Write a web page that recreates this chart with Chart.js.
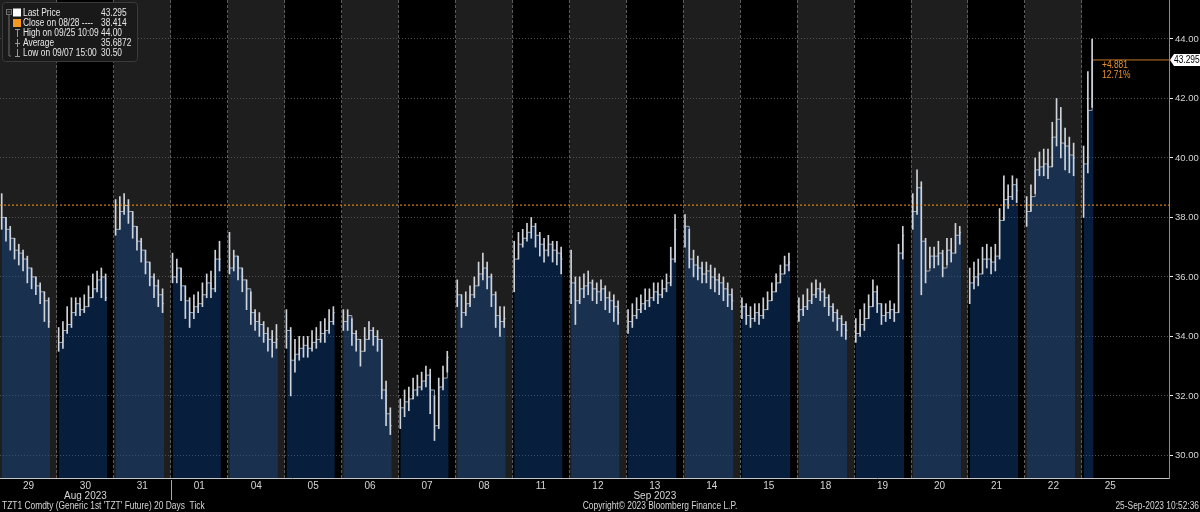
<!DOCTYPE html>
<html>
<head>
<meta charset="utf-8">
<script src="https://cdn.jsdelivr.net/npm/chart.js@4.4.0/dist/chart.umd.min.js"></script>
<style>
  html, body { margin: 0; padding: 0; background: #000; }
  #chart { display: block; }
</style>
</head>
<body>
<canvas id="chart" width="1200" height="512"></canvas>
<script>
// trading days shown on the axis
const dayLabels = ['29','30','31','01','04','05','06','07','08','11','12','13','14','15','18','19','20','21','22','25'];

// intraday bars per day (close / high / low)
const closes = [
  [38.0, 37.6, 37.3, 36.9, 36.8, 36.6, 36.3, 36.0, 35.7, 35.5, 35.2, 34.5],
  [33.8, 34.2, 34.4, 34.8, 35.1, 34.9, 35.0, 35.3, 35.6, 35.9, 36.0, 35.3],
  [37.6, 38.2, 38.4, 38.2, 37.7, 37.2, 36.9, 36.5, 36.0, 35.7, 35.4, 35.1],
  [36.0, 36.3, 35.7, 35.2, 34.8, 35.0, 35.1, 35.4, 35.8, 35.6, 36.6, 36.6],
  [36.3, 36.7, 36.3, 35.9, 35.6, 34.8, 34.5, 34.4, 34.1, 33.9, 33.8, 33.9],
  [34.2, 33.2, 33.4, 33.6, 33.7, 33.6, 33.8, 33.9, 34.1, 34.2, 34.5, 34.8],
  [34.5, 34.7, 34.1, 33.9, 33.5, 33.9, 34.2, 34.0, 33.9, 32.2, 31.4, 31.0],
  [31.6, 31.8, 31.9, 32.2, 32.3, 32.5, 32.7, 32.2, 31.0, 32.3, 32.6, 33.3],
  [35.4, 34.8, 35.1, 35.4, 35.7, 36.1, 36.3, 36.0, 35.4, 34.7, 34.5, 34.6],
  [36.6, 37.1, 37.3, 37.5, 37.7, 37.4, 37.1, 36.9, 37.1, 36.9, 36.8, 36.6],
  [35.8, 35.2, 35.6, 35.7, 35.8, 35.6, 35.5, 35.6, 35.3, 35.2, 35.0, 34.8],
  [34.5, 34.7, 34.9, 35.1, 35.2, 35.3, 35.5, 35.4, 35.6, 35.8, 36.6, 37.6],
  [37.7, 36.6, 36.4, 36.3, 36.1, 36.2, 36.0, 35.9, 35.8, 35.6, 35.4, 35.2],
  [35.0, 34.7, 34.6, 34.8, 34.7, 34.9, 35.2, 35.5, 35.8, 36.1, 36.4, 36.5],
  [34.9, 35.0, 35.2, 35.4, 35.6, 35.5, 35.3, 35.0, 34.8, 34.6, 34.4, 34.2],
  [34.1, 34.4, 34.6, 35.0, 35.5, 35.1, 34.7, 34.8, 34.9, 34.8, 36.8, 37.4],
  [38.2, 39.0, 37.2, 36.2, 36.7, 36.7, 36.8, 36.3, 36.9, 36.8, 37.4, 37.5],
  [35.8, 36.0, 36.1, 36.6, 36.6, 36.5, 36.7, 37.9, 38.6, 38.7, 39.1, 38.9],
  [38.2, 38.7, 39.6, 39.7, 39.8, 39.7, 40.7, 41.3, 40.5, 40.4, 40.1, 40.0],
  [39.8, 41.6, 43.295]
];
const highs = [
  [38.8, 38.0, 37.7, 37.3, 37.1, 36.9, 36.7, 36.3, 36.0, 35.8, 35.5, 35.3],
  [34.3, 34.5, 35.0, 35.3, 35.3, 35.3, 35.4, 35.7, 36.1, 36.2, 36.3, 36.1],
  [38.6, 38.7, 38.8, 38.6, 38.2, 37.7, 37.3, 36.9, 36.5, 36.1, 35.9, 35.6],
  [36.8, 36.6, 36.3, 35.7, 35.3, 35.4, 35.5, 35.8, 36.1, 36.2, 36.9, 37.2],
  [37.5, 36.9, 36.7, 36.3, 35.9, 35.5, 34.9, 34.8, 34.5, 34.3, 34.2, 34.4],
  [34.9, 34.3, 33.9, 34.0, 34.0, 34.0, 34.2, 34.3, 34.5, 34.6, 34.9, 35.0],
  [34.9, 34.9, 34.6, 34.2, 33.9, 34.3, 34.5, 34.3, 34.2, 33.9, 32.5, 31.6],
  [31.9, 32.2, 32.3, 32.6, 32.7, 32.8, 33.0, 32.9, 32.0, 32.6, 33.0, 33.5],
  [35.9, 35.4, 35.5, 35.7, 36.0, 36.5, 36.8, 36.5, 36.1, 35.5, 35.0, 35.0],
  [37.2, 37.5, 37.6, 37.8, 38.0, 37.8, 37.5, 37.3, 37.4, 37.2, 37.2, 37.0],
  [36.9, 36.0, 36.0, 36.1, 36.2, 35.9, 35.8, 35.9, 35.7, 35.5, 35.4, 35.2],
  [34.9, 35.1, 35.3, 35.4, 35.6, 35.6, 35.8, 35.8, 35.9, 36.1, 37.0, 38.1],
  [38.1, 37.6, 36.9, 36.7, 36.5, 36.5, 36.4, 36.3, 36.1, 36.0, 35.8, 35.6],
  [35.3, 35.1, 35.0, 35.1, 35.1, 35.3, 35.5, 35.8, 36.1, 36.4, 36.7, 36.8],
  [35.3, 35.4, 35.6, 35.8, 35.9, 35.8, 35.6, 35.4, 35.1, 34.9, 34.7, 34.5],
  [34.6, 34.9, 35.1, 35.4, 35.9, 35.7, 35.1, 35.1, 35.2, 35.1, 37.1, 37.7],
  [38.8, 39.6, 39.2, 37.3, 37.0, 37.0, 37.2, 36.9, 37.3, 37.3, 37.8, 37.7],
  [36.3, 36.5, 36.6, 37.0, 37.1, 37.0, 37.1, 38.3, 39.4, 39.1, 39.4, 39.3],
  [38.7, 39.1, 40.0, 40.2, 40.3, 40.3, 41.2, 42.0, 41.7, 41.0, 40.7, 40.5],
  [40.4, 42.9, 44.0]
];
const lows = [
  [37.6, 37.2, 36.9, 36.6, 36.4, 36.2, 35.8, 35.6, 35.4, 35.1, 34.5, 34.3],
  [33.5, 33.6, 34.1, 34.3, 34.7, 34.7, 34.8, 35.0, 35.3, 35.5, 35.3, 35.2],
  [37.4, 37.6, 38.1, 37.8, 37.3, 36.9, 36.5, 36.1, 35.7, 35.3, 35.0, 34.8],
  [35.8, 35.8, 35.2, 34.6, 34.3, 34.6, 34.8, 35.0, 35.3, 35.3, 35.5, 36.2],
  [36.1, 36.2, 35.9, 35.5, 34.9, 34.4, 34.2, 34.0, 33.8, 33.5, 33.3, 33.6],
  [33.6, 32.0, 32.8, 33.2, 33.3, 33.3, 33.5, 33.6, 33.8, 33.8, 34.1, 34.4],
  [34.2, 34.2, 33.7, 33.5, 33.0, 33.5, 33.9, 33.7, 33.5, 31.9, 31.0, 30.7],
  [30.9, 31.3, 31.5, 31.9, 32.0, 32.2, 32.3, 31.4, 30.5, 30.9, 32.2, 32.8],
  [35.0, 34.3, 34.7, 35.0, 35.3, 35.7, 35.9, 35.6, 35.0, 34.3, 34.0, 34.3],
  [35.5, 36.6, 37.0, 37.2, 37.3, 37.0, 36.7, 36.5, 36.7, 36.5, 36.4, 36.1],
  [35.1, 34.4, 35.1, 35.3, 35.4, 35.2, 35.1, 35.2, 34.9, 34.8, 34.5, 34.4],
  [34.1, 34.3, 34.6, 34.8, 34.9, 35.0, 35.2, 35.1, 35.3, 35.5, 35.7, 36.5],
  [37.0, 36.3, 36.0, 35.9, 35.8, 35.8, 35.6, 35.5, 35.4, 35.2, 35.0, 34.9],
  [34.6, 34.4, 34.3, 34.5, 34.4, 34.6, 34.9, 35.2, 35.5, 35.8, 36.1, 36.2],
  [34.5, 34.7, 34.9, 35.1, 35.3, 35.2, 35.0, 34.7, 34.5, 34.2, 34.0, 33.9],
  [33.8, 34.0, 34.2, 34.6, 35.0, 34.8, 34.4, 34.5, 34.6, 34.5, 34.8, 36.6],
  [37.6, 38.1, 35.4, 35.8, 36.3, 36.3, 36.4, 36.0, 36.4, 36.5, 36.8, 37.1],
  [35.1, 35.6, 35.7, 36.1, 36.3, 36.1, 36.2, 36.6, 37.9, 38.3, 38.6, 38.5],
  [37.7, 38.2, 38.8, 39.4, 39.4, 39.3, 39.7, 40.4, 40.0, 39.6, 39.5, 39.4],
  [38.0, 39.5, 41.7]
];

const yTicks = [30, 32, 34, 36, 38, 40, 42, 44];
const prevClose = 38.414;
const lastPrice = 43.295;

const legendRows = [
  ['Last Price', '43.295'],
  ['Close on 08/28 ----', '38.414'],
  ['High on 09/25 10:09', '44.00'],
  ['Average', '35.6872'],
  ['Low on 09/07 15:00', '30.50']
];

const FONT = "'Liberation Sans', Arial, sans-serif";
const NARROW = 0.84;   // the terminal font is narrower than Liberation Sans
const X_MAX = 20.53;
const SLOT = 0.075, START = 0.03, TAIL = 0.025;

// build points: stepped close line (with breaks between days) + high/low bars
const stepPts = [], hlPts = [];
let lastX = 0;
closes.forEach((day, d) => {
  day.forEach((c, j) => {
    const x = d + START + j * SLOT;
    stepPts.push({ x, y: c });
    hlPts.push({ x, y: [lows[d][j], highs[d][j]] });
  });
  lastX = d + START + (day.length - 1) * SLOT + TAIL;
  stepPts.push({ x: lastX, y: day[day.length - 1] });
  stepPts.push({ x: lastX + 0.005, y: null });
});

function narrowText(ctx, s, x, y, align) {
  ctx.save();
  ctx.translate(x, y);
  ctx.scale(NARROW, 1);
  ctx.textAlign = align || 'left';
  ctx.fillText(s, 0, 0);
  ctx.restore();
}

const bandsPlugin = {
  id: 'bands',
  beforeDraw(chart) {
    const { ctx, chartArea: a, scales: { x } } = chart;
    ctx.save();
    ctx.fillStyle = '#000';
    ctx.fillRect(0, 0, chart.width, chart.height);
    dayLabels.forEach((_, i) => {
      if (i % 2) return;
      const l = x.getPixelForValue(i), r = x.getPixelForValue(i + 1);
      ctx.fillStyle = '#1e1e1e';
      ctx.fillRect(l, a.top, r - l, a.bottom - a.top);
    });
    ctx.restore();
  }
};

const overlayPlugin = {
  id: 'overlay',
  afterDraw(chart) {
    const { ctx, chartArea: a, scales: { x, y } } = chart;
    ctx.save();

    // month separator under the axis
    const sx = Math.round(x.getPixelForValue(3)) + 0.5;
    ctx.strokeStyle = '#a8a8a8'; ctx.lineWidth = 1;
    ctx.beginPath(); ctx.moveTo(sx, a.bottom + 2); ctx.lineTo(sx, a.bottom + 22); ctx.stroke();

    // change since previous close
    const py = y.getPixelForValue(lastPrice);
    const chg = lastPrice - prevClose;
    ctx.font = '10px ' + FONT;
    ctx.textBaseline = 'middle';
    ctx.fillStyle = '#e8922c';
    narrowText(ctx, '+' + chg.toFixed(3), 1102, py + 5);
    narrowText(ctx, (chg / prevClose * 100).toFixed(2) + '%', 1102, py + 15);

    // last price tag on the axis
    ctx.fillStyle = '#ffffff';
    ctx.beginPath();
    ctx.moveTo(1174, py - 6); ctx.lineTo(1200, py - 6); ctx.lineTo(1200, py + 6);
    ctx.lineTo(1174, py + 6); ctx.lineTo(1170, py); ctx.closePath(); ctx.fill();
    ctx.fillStyle = '#000';
    narrowText(ctx, lastPrice.toFixed(3), 1174, py + 0.5);

    // legend box
    ctx.fillStyle = 'rgba(26,26,26,0.96)';
    ctx.strokeStyle = '#3a3a3a';
    ctx.beginPath(); ctx.roundRect(2.5, 2.5, 135, 59, 3); ctx.fill(); ctx.stroke();
    ctx.strokeStyle = '#707070';
    ctx.strokeRect(6.5, 9.5, 5, 5);
    ctx.beginPath();
    ctx.moveTo(7.5, 12); ctx.lineTo(10.5, 12);
    ctx.moveTo(9, 15); ctx.lineTo(9, 56); ctx.lineTo(11, 56);
    ctx.stroke();
    ctx.fillStyle = '#ffffff'; ctx.fillRect(13, 8.5, 8, 8);
    ctx.fillStyle = '#f39a1e'; ctx.fillRect(13, 19, 8, 8);
    ctx.strokeStyle = '#9a9a9a';
    ctx.beginPath();
    ctx.moveTo(15, 29.5); ctx.lineTo(20, 29.5); ctx.moveTo(17.5, 29.5); ctx.lineTo(17.5, 37);
    ctx.moveTo(17.5, 39); ctx.lineTo(17.5, 47); ctx.moveTo(15, 43.5); ctx.lineTo(20, 43.5);
    ctx.moveTo(17.5, 49); ctx.lineTo(17.5, 56.5); ctx.moveTo(15, 56.5); ctx.lineTo(20, 56.5);
    ctx.stroke();
    ctx.fillStyle = '#e8e8e8';
    legendRows.forEach((r, i) => {
      const ry = 13 + i * 10;
      narrowText(ctx, r[0], 23, ry);
      narrowText(ctx, r[1], 101, ry);
    });

    // footer
    ctx.fillStyle = '#d6d6d6';
    narrowText(ctx, "TZT1 Comdty (Generic 1st 'TZT' Future) 20 Days  Tick", 2, 506);
    narrowText(ctx, 'Copyright\u00A9 2023 Bloomberg Finance L.P.', 660, 506, 'center');
    narrowText(ctx, '25-Sep-2023 10:52:36', 1199, 506, 'right');
    ctx.restore();
  }
};

new Chart(document.getElementById('chart').getContext('2d'), {
  data: {
    datasets: [
      { type: 'line', data: [{ x: 0, y: prevClose }, { x: X_MAX, y: prevClose }],
        borderColor: '#ff9d14', borderWidth: 1, borderDash: [2, 2], pointRadius: 0, order: 0 },
      { type: 'line', data: [{ x: lastX, y: lastPrice }, { x: X_MAX, y: lastPrice }],
        borderColor: '#c2762a', borderWidth: 1, pointRadius: 0, order: 1 },
      { type: 'bar', data: hlPts, backgroundColor: '#cfd3da', barThickness: 1, order: 2 },
      { type: 'line', data: stepPts, stepped: true, spanGaps: false,
        fill: { target: 'start' }, backgroundColor: 'rgba(20,80,160,0.38)',
        borderColor: 'rgba(190,198,210,0.8)', borderWidth: 1, pointRadius: 0, order: 3 }
    ]
  },
  options: {
    responsive: false,
    animation: false,
    layout: { padding: 0 },
    plugins: { legend: { display: false }, tooltip: { enabled: false } },
    scales: {
      x: {
        type: 'linear', min: 0, max: X_MAX, offset: false,
        afterBuildTicks: s => { s.ticks = dayLabels.map((_, i) => ({ value: i + 0.5 })); },
        afterFit: s => { s.height = 34; s.paddingLeft = 0; s.paddingRight = 0; },
        ticks: {
          autoSkip: false, maxRotation: 0, color: '#d6d6d6', padding: 3,
          font: { family: FONT, size: 10, lineHeight: 1 },
          callback: (v, i) => i === 1 ? [dayLabels[i], 'Aug 2023'] : i === 11 ? [dayLabels[i], 'Sep 2023'] : dayLabels[i]
        },
        grid: { offset: true, drawTicks: false, lineWidth: 1,
                color: c => c.index > 0 ? '#5c5c5c' : 'rgba(0,0,0,0)' },
        border: { display: true, color: '#c4c4c4', dash: [3, 2] }
      },
      y: {
        position: 'right', min: 29.24, max: 45.31,
        afterBuildTicks: s => { s.ticks = yTicks.map(v => ({ value: v })); },
        afterFit: s => { s.width = 31; s.paddingTop = 0; s.paddingBottom = 0; },
        ticks: { color: '#d6d6d6', padding: 2, font: { family: FONT, size: 9.5 },
                 callback: v => v.toFixed(2) },
        grid: { color: '#505050', tickColor: '#eeeeee', tickLength: 4, lineWidth: 1 },
        border: { display: true, color: '#8c8c8c', dash: [1, 2] }
      }
    }
  },
  plugins: [bandsPlugin, overlayPlugin]
});
</script>
</body>
</html>
